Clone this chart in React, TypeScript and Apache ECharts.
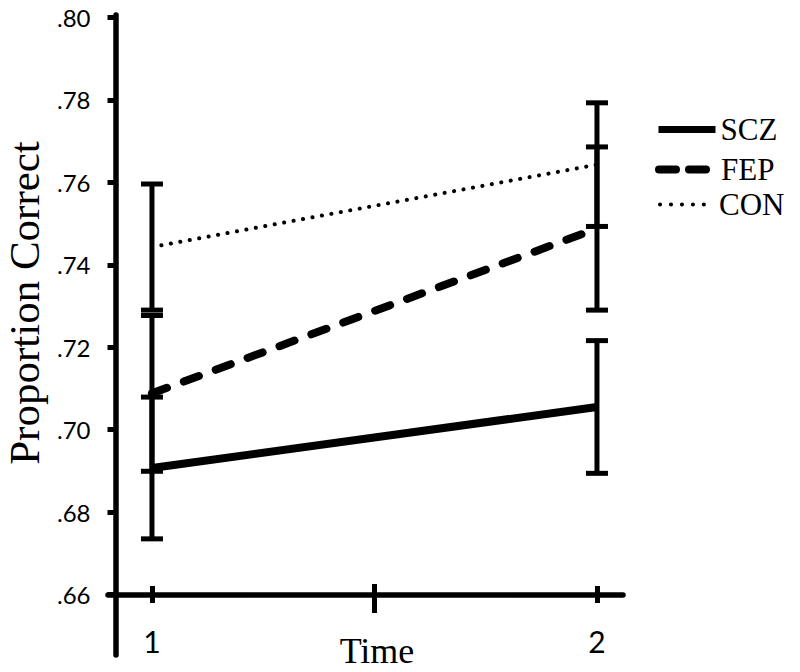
import React, { useEffect, useRef } from 'react';
import * as echarts from 'echarts';

// ---- data ----
const times = [1, 2];
const groupNames = ['SCZ', 'FEP', 'CON'];
const sczMean = [0.6907, 0.7055];
const sczErr = [0.0172, 0.0161];
const fepMean = [0.7088, 0.7488];
const fepErr = [0.0189, 0.0198];
const conMean = [0.7443, 0.7643];
const conErr = [0.0153, 0.015];
const xTickLabels = [1, 2];
const xMidTick = [1.5];
const xAxisTitle = 'Time';
const yAxisTitle = 'Proportion Correct';
const yMin = 0.66;
const yMax = 0.8;
const yStep = 0.02;

const SERIF = "'Liberation Serif', 'Times New Roman', serif";
const SANS = "Lato, 'Open Sans', sans-serif";
const BLACK = '#000';

export default function App() {
  const ref = useRef<HTMLDivElement>(null);

  useEffect(() => {
    document.body.style.margin = '0';
    if (!ref.current) return;
    const chart = echarts.init(ref.current, undefined, { renderer: 'svg' });

    const means = [sczMean, fepMean, conMean];
    const errs = [sczErr, fepErr, conErr];
    const errData: number[][] = [];
    means.forEach((m, g) => {
      times.forEach((t, i) => {
        errData.push([t, m[i] - errs[g][i], m[i] + errs[g][i]]);
      });
    });

    const xBase = {
      type: 'value',
      gridIndex: 0,
      min: 0.9012,
      max: 2.0585,
      position: 'bottom',
      splitLine: { show: false },
    };
    const tickLine = { color: BLACK, width: 5 };
    const legendBase = {
      left: 655,
      itemWidth: 57,
      itemHeight: 14,
      padding: 0,
      selectedMode: false,
      itemStyle: { opacity: 0 },
      textStyle: { fontFamily: SERIF, fontSize: 31, color: BLACK, lineHeight: 28 },
    };

    const option: any = {
      animation: false,
      backgroundColor: '#fff',
      grid: [
        { left: 108, right: 177, top: 17.5, bottom: 77.5, outerBoundsMode: 'none', containLabel: false },
        { left: 115.5, right: 177, top: 15, bottom: 17, outerBoundsMode: 'none', containLabel: false },
      ],
      xAxis: [
        {
          ...xBase,
          axisLine: { show: true, lineStyle: { color: BLACK, width: 5.5 } },
          axisTick: { show: true, customValues: xTickLabels, length: 8.5, inside: false, lineStyle: tickLine },
          axisLabel: {
            show: true,
            customValues: xTickLabels,
            margin: 31,
            color: BLACK,
            fontFamily: SANS,
            fontSize: 30,
            formatter: (v: number) => String(v),
          },
          name: xAxisTitle,
          nameLocation: 'middle',
          nameGap: 38,
          nameMoveOverlap: false,
          nameTextStyle: { fontFamily: SERIF, fontSize: 36, color: BLACK, padding: [0, 0, 0, 23] },
        },
        {
          ...xBase,
          axisLine: { show: false },
          axisTick: { show: true, customValues: xTickLabels, length: 8.5, inside: true, lineStyle: tickLine },
          axisLabel: { show: false },
        },
        {
          ...xBase,
          axisLine: { show: false },
          axisTick: { show: true, customValues: xMidTick, length: 18.5, inside: false, lineStyle: tickLine },
          axisLabel: { show: false },
        },
        {
          ...xBase,
          axisLine: { show: false },
          axisTick: { show: true, customValues: xMidTick, length: 10.5, inside: true, lineStyle: tickLine },
          axisLabel: { show: false },
        },
        { type: 'value', gridIndex: 1, show: false, min: 0, max: 1 },
      ],
      yAxis: [
        {
          type: 'value',
          gridIndex: 0,
          min: yMin,
          max: yMax,
          interval: yStep,
          offset: -7.5,
          splitLine: { show: false },
          axisLine: { show: false },
          axisTick: { show: true, length: 8, inside: false, lineStyle: tickLine },
          axisLabel: {
            margin: 25,
            color: BLACK,
            fontFamily: SANS,
            fontSize: 24,
            formatter: (v: number) => v.toFixed(2).replace(/^0/, ''),
          },
          name: yAxisTitle,
          nameLocation: 'middle',
          nameRotate: 90,
          nameGap: 73,
          nameMoveOverlap: false,
          nameTextStyle: { fontFamily: SERIF, fontSize: 43, lineHeight: 36, color: BLACK, padding: [0, 0, 0, 6] },
        },
        {
          type: 'value',
          gridIndex: 1,
          min: 0,
          max: 1,
          splitLine: { show: false },
          axisLine: { show: true, lineStyle: { color: BLACK, width: 5.5 } },
          axisTick: { show: false },
          axisLabel: { show: false },
        },
      ],
      legend: [
        {
          ...legendBase,
          data: [groupNames[0]],
          top: 114,
          lineStyle: { width: 7 },
        },
        {
          ...legendBase,
          data: [groupNames[1]],
          top: 154,
          lineStyle: { width: 8, type: [17, 13], cap: 'round' },
        },
        {
          ...legendBase,
          data: [groupNames[2]],
          top: 189,
          lineStyle: { width: 4, type: [0.1, 10.85], cap: 'round', dashOffset: -3.3 },
        },
      ],
      series: [
        {
          type: 'line',
          name: groupNames[0],
          xAxisIndex: 0,
          yAxisIndex: 0,
          data: times.map((t, i) => [t, sczMean[i]]),
          symbol: 'none',
          itemStyle: { color: BLACK },
          lineStyle: { color: BLACK, width: 8 },
          z: 2,
        },
        {
          type: 'line',
          name: groupNames[1],
          xAxisIndex: 0,
          yAxisIndex: 0,
          data: times.map((t, i) => [t, fepMean[i]]),
          symbol: 'none',
          itemStyle: { color: BLACK },
          lineStyle: { color: BLACK, width: 8, type: [16, 18], cap: 'round' },
          z: 2,
        },
        {
          type: 'line',
          name: groupNames[2],
          xAxisIndex: 0,
          yAxisIndex: 0,
          data: times.map((t, i) => [t, conMean[i]]),
          symbol: 'none',
          itemStyle: { color: BLACK },
          lineStyle: { color: BLACK, width: 4, type: [0.1, 9.5], cap: 'round' },
          z: 2,
        },
        {
          type: 'custom',
          name: 'errors',
          xAxisIndex: 0,
          yAxisIndex: 0,
          data: errData,
          encode: { x: 0, y: [1, 2] },
          z: 3,
          renderItem: (params: any, api: any) => {
            const x = api.value(0);
            const lo = api.coord([x, api.value(1)]);
            const hi = api.coord([x, api.value(2)]);
            const hw = 11;
            const st = { stroke: BLACK, lineWidth: 5, fill: 'none' };
            return {
              type: 'group',
              children: [
                { type: 'line', shape: { x1: lo[0], y1: lo[1], x2: hi[0], y2: hi[1] }, style: st },
                { type: 'line', shape: { x1: lo[0] - hw, y1: lo[1], x2: lo[0] + hw, y2: lo[1] }, style: st },
                { type: 'line', shape: { x1: hi[0] - hw, y1: hi[1], x2: hi[0] + hw, y2: hi[1] }, style: st },
              ],
            };
          },
        },
      ],
    };

    chart.setOption(option);
    return () => chart.dispose();
  }, []);

  return <div ref={ref} style={{ width: 800, height: 672 }} />;
}
